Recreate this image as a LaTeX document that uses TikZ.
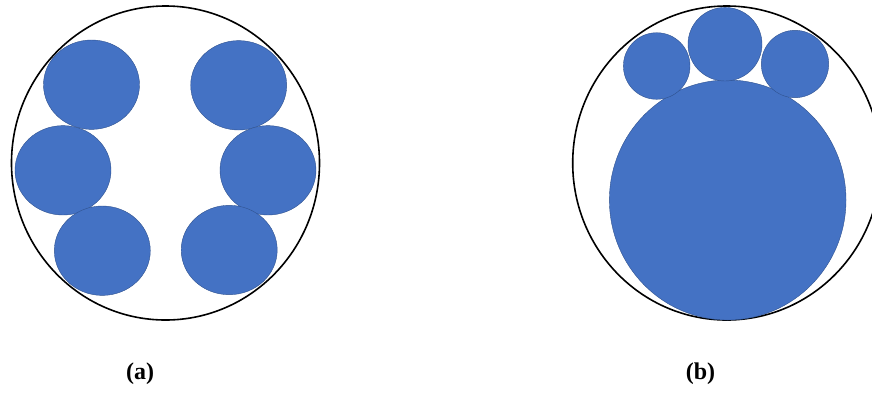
\documentclass[tikz,border=0pt]{standalone}
\usepackage{fontspec}
\setmainfont{Liberation Serif}
\usepackage{xcolor}
\usepackage{tikz}
\definecolor{bl}{RGB}{68,114,196}
\definecolor{blrand}{RGB}{47,82,143}
\definecolor{zw}{RGB}{0,0,0}

\begin{document}
\begin{tikzpicture}[x=1pt,y=-1pt,
    vat/.style={draw=zw,line width=1.6pt},
    deel/.style={fill=bl,draw=blrand,line width=0.4pt}]
  \useasboundingbox (0,0) rectangle (872,392);
  \clip (0,0) rectangle (872,392);

  % (a) six particles along the wall
  \draw[vat] (165.5,163) ellipse [x radius=154,y radius=157];
  \draw[deel] (91.5,84.7) ellipse [x radius=48,y radius=44.7];
  \draw[deel] (238.7,85.3) ellipse [x radius=48,y radius=44.7];
  \draw[deel] (63,170.3) ellipse [x radius=48,y radius=44.7];
  \draw[deel] (268,170.3) ellipse [x radius=48,y radius=44.7];
  \draw[deel] (102.3,250.7) ellipse [x radius=48,y radius=44.7];
  \draw[deel] (229.2,250) ellipse [x radius=48,y radius=44.7];

  % (b) one big particle, three small ones on top
  \draw[vat] (726.7,163) ellipse [x radius=154,y radius=157];
  \draw[deel] (727.7,200) ellipse [x radius=118.3,y radius=120];
  \draw[deel] (656.7,66) ellipse [x radius=33.3,y radius=33.3];
  \draw[deel] (725,44.2) ellipse [x radius=37,y radius=36.8];
  \draw[deel] (795,64) ellipse [x radius=33.7,y radius=33.7];

  % labels
  \node[font=\fontsize{24}{28}\selectfont\bfseries] (la) at (140,374) {(a)};
  \node[font=\fontsize{24}{28}\selectfont\bfseries] (lb) at (700.5,374) {(b)};
\end{tikzpicture}
\end{document}
